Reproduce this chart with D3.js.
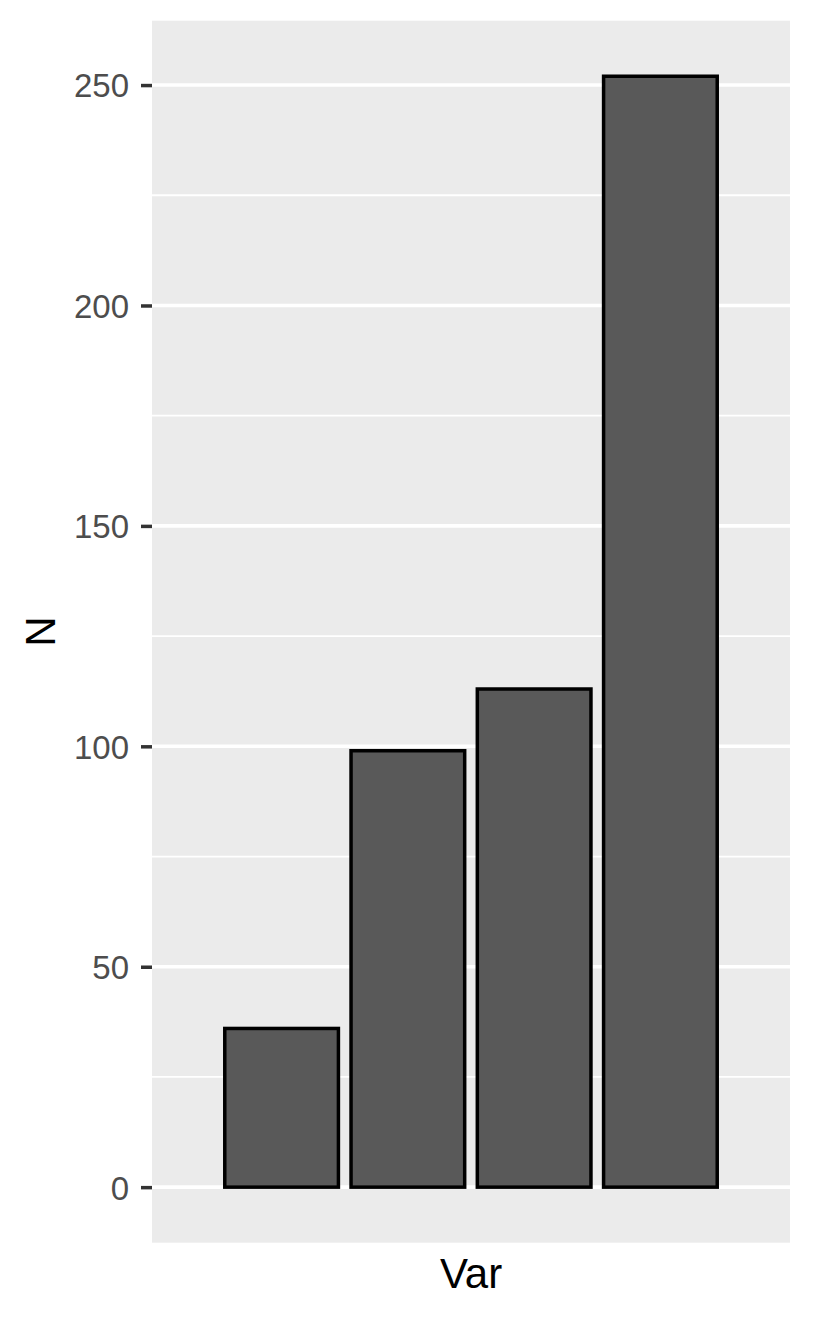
<!DOCTYPE html>
<html>
<head>
<meta charset="utf-8">
<script src="https://cdn.jsdelivr.net/npm/d3@7"></script>
<style>
  body { margin: 0; background: #fff; }
  svg { display: block; font-family: "Liberation Sans", Arial, sans-serif; }
</style>
</head>
<body>
<svg id="chart" width="813" height="1318"></svg>
<script>
// data
const groups = ["a", "b", "c", "d"];
const counts = [36, 99, 113, 252];
const yTicks = [0, 50, 100, 150, 200, 250];
const yMinor = [25, 75, 125, 175, 225];
const xCategory = "Var";

const svg = d3.select("#chart");
const panel = { left: 152, right: 790, top: 20.7, bottom: 1242.7 };

// ggplot-style expansion: 5% on continuous y, 0.6 on discrete x
const yMax = d3.max(counts);
const yPad = yMax * 0.05;
const y = d3.scaleLinear()
  .domain([-yPad, yMax + yPad])
  .range([panel.bottom, panel.top]);

const x = d3.scaleLinear()
  .domain([0.4, 1.6])
  .range([panel.left, panel.right]);

// dodged bars inside the single category
const dodgeWidth = 0.95;
const band = d3.scaleBand()
  .domain(groups)
  .range([x(1 - dodgeWidth / 2), x(1 + dodgeWidth / 2)])
  .paddingInner(0.1)
  .paddingOuter(0.05);

// panel background
svg.append("rect")
  .attr("x", panel.left)
  .attr("y", panel.top)
  .attr("width", panel.right - panel.left)
  .attr("height", panel.bottom - panel.top)
  .attr("fill", "#EBEBEB");

// grid
svg.append("g").selectAll("line")
  .data(yMinor)
  .join("line")
  .attr("x1", panel.left).attr("x2", panel.right)
  .attr("y1", (d) => y(d)).attr("y2", (d) => y(d))
  .attr("stroke", "#fff")
  .attr("stroke-width", 1.8);

svg.append("g").selectAll("line")
  .data(yTicks)
  .join("line")
  .attr("x1", panel.left).attr("x2", panel.right)
  .attr("y1", (d) => y(d)).attr("y2", (d) => y(d))
  .attr("stroke", "#fff")
  .attr("stroke-width", 3.6);

// bars
svg.append("g").selectAll("rect")
  .data(groups.map((g, i) => ({ g, n: counts[i] })))
  .join("rect")
  .attr("x", (d) => band(d.g))
  .attr("width", band.bandwidth())
  .attr("y", (d) => y(d.n))
  .attr("height", (d) => y(0) - y(d.n))
  .attr("fill", "#595959")
  .attr("stroke", "#000")
  .attr("stroke-width", 3.5);

// y axis
const yAxis = svg.append("g")
  .attr("transform", `translate(${panel.left},0)`)
  .call(d3.axisLeft(y).tickValues(yTicks).tickSize(11).tickPadding(12));

yAxis.select(".domain").remove();
yAxis.selectAll(".tick line")
  .attr("stroke", "#333333")
  .attr("stroke-width", 3.5);
yAxis.selectAll(".tick text")
  .attr("fill", "#4D4D4D")
  .attr("font-size", 33)
  .attr("font-family", "Liberation Sans, Arial, sans-serif")
  .attr("dy", "0.36em");

// axis titles
svg.append("text")
  .attr("x", (panel.left + panel.right) / 2)
  .attr("y", 1288)
  .attr("text-anchor", "middle")
  .attr("font-size", 42)
  .attr("fill", "#000")
  .text(xCategory);

svg.append("text")
  .attr("transform", `translate(55,${(panel.top + panel.bottom) / 2}) rotate(-90)`)
  .attr("text-anchor", "middle")
  .attr("font-size", 42)
  .attr("fill", "#000")
  .text("N");
</script>
</body>
</html>
